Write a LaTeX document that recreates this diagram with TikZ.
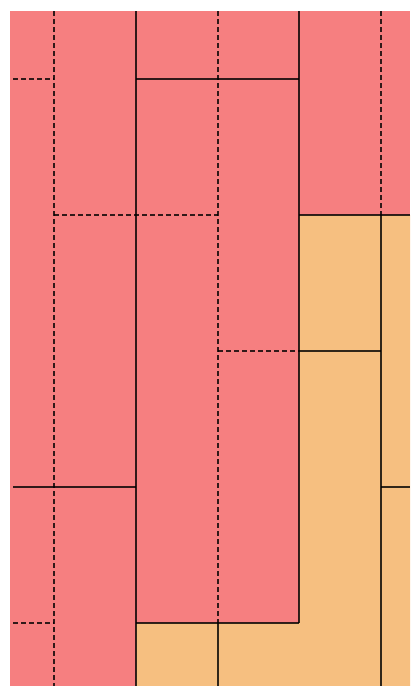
\documentclass[tikz,border=0pt]{standalone}
\definecolor{brickred}{HTML}{F67F80}
\definecolor{brickorange}{HTML}{F6BF80}
\tikzset{
  seam/.style={draw=black, draw opacity=0.8, line width=1.2pt},
  dseam/.style={seam, dash pattern=on 5pt off 3pt},
}
\begin{document}
\begin{tikzpicture}[x=1pt,y=-1pt]
\useasboundingbox (0,0) rectangle (410,686);
\fill[white] (0,0) rectangle (410,686);
\fill[brickred] (10,11) rectangle (410,686);
\fill[brickorange] (299,215) -- (410,215) -- (410,686) -- (136,686) -- (136,623) -- (299,623) -- cycle;
% left partial column
\draw[dseam] (13,79) -- (54,79);
\draw[seam] (13,487) -- (136,487);
\draw[dseam] (13,623) -- (54,623);
\draw[dseam] (54,11) -- (54,686);
\draw[dseam] (54,215) -- (218,215);
\draw[seam] (136,11) -- (136,686);
\draw[seam] (136,79) -- (299,79);
\draw[dseam] (218,11) -- (218,623);
\draw[seam] (218,623) -- (218,686);
\draw[seam] (299,11) -- (299,623);
\draw[seam] (136,623) -- (299,623);
\draw[dseam] (218,351) -- (299,351);
\draw[seam] (299,351) -- (381,351);
\draw[seam] (299,215) -- (410,215);
\draw[dseam] (381,11) -- (381,215);
\draw[seam] (381,215) -- (381,686);
\draw[seam] (381,487) -- (410,487);
\end{tikzpicture}
\end{document}
